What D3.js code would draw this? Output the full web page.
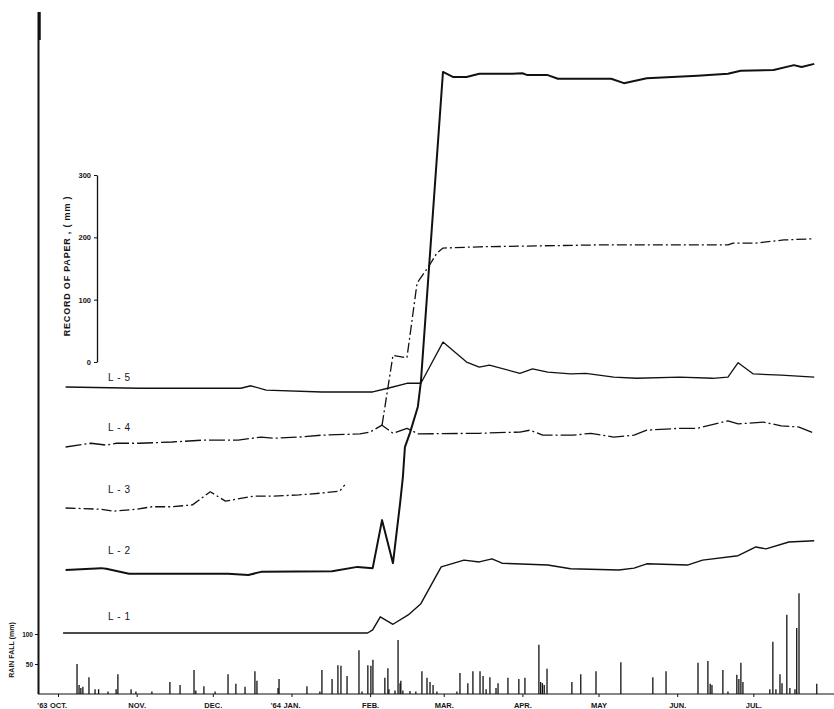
<!DOCTYPE html>
<html lang="en">
<head>
<meta charset="utf-8">
<title>Extensometer records and rainfall</title>
<script src="https://cdn.jsdelivr.net/npm/d3@7"></script>
<style>
	body { margin: 0; background: #fff; }
	text { font-family: "Liberation Sans", Arial, sans-serif; fill: #151515; }
</style>
</head>
<body>
<div id="chart"></div>
<script>
// all days are counted from 1 Oct 1963, record values in mm of paper
var l1Days = [2,122,124,127,132,138,143,151,160,166,171,175,193,202,221,227,232,248,254,268,275,279,288,298];
var l1Vals = [0,0,5,26,14,29,47,106,117,114,119,112,109,103,101,104,111,109,117,124,138,135,146,148];

var l2Days = [3,17,19,28,67,75,80,108,118,124,127.7,132,134.8,135.9,136.7,138.7,141.8,143,151.7,155.6,161,166,179,183,185,193,197,218,223,232,252,264,269,282,290,293,298];
var l2Vals = [0,3,2,-6,-6,-8,-3,-2,5,3,80,11,107,149,197,220,262,302,799,791,791,796,796,797,794,794,788,788,781,789,793,796,801,802,810,807,812];

// L-3 has a break in the record before the rise
var l3Days = [3,17,22,31,37,45,53,60,66,77,85,95,104,111,113,120,127.7,132,137.5,141.5,146,149.3,151.7,166,212,232,264,266,275,286,298];
var l3Vals = [0,-2,-5,-2,2,2,5,26,11,19,19,21,24,27,37,null,133,245,241,361,387,409,417,419,422,422,422,425,425,430,432];

var l4Days = [3,13,19,23,32,45,57,71,80,85,95,104,119,123,127.7,132,137.5,142,166,182,186,191,203,210,219,227,232,245,252,264,268,278,285,292,298];
var l4Vals = [0,6,3,6,6,8,11,11,16,14,16,19,21,24,35,22,30,21,22,24,27,19,19,22,16,19,27,30,30,42,37,40,34,32,22];

var l5Days = [3,32,72,76,82,104,124,130,137.5,143,151.7,161,166,170,182,187,193,202,208,219,228,245,258,264,268,274,285,298];
var l5Vals = [0,-2,-2,2,-5,-8,-8,-2,6,6,72,40,32,35,22,29,24,21,22,16,14,16,14,16,39,21,19,16];

var lineNames = ["L - 1","L - 2","L - 3","L - 4","L - 5"];

var rainDays = [7.5,8.3,9,9.8,12.2,14.6,16,19.7,22.9,23.6,28.8,30.7,37,44.1,48.1,53.6,54.3,57.5,61.9,67,70.1,73.7,77.6,78.4,86.7,87.1,98.1,103.2,104,108,110.3,111.5,113.9,118.6,119.8,122.1,123.3,124.1,128.8,130,130.4,132.8,134,134.8,135.1,135.9,138.7,141,143.4,145.4,146.6,147.8,149.3,157.2,158.4,161.5,163.5,166.3,167.5,168.7,170.2,172.6,173.4,177.3,181.6,184,189.5,190.2,190.9,191.6,192.7,202.5,206,212,221.8,234.4,239.6,252.2,256.1,257,257.7,262,264,267.5,268.3,269.1,269.9,280.5,281.7,282.9,284.5,285.3,287.2,288.4,290.4,291.1,292,299];
var rainMm = [50,15,10,12,28,8,8,4,8,33,8,4,4,20,15,40,6,13,4,33,17,12,38,22,10,25,13,4,40,25,48,47,30,73,4,48,47,57,27,43,8,6,90,18,22,6,5,4,38,27,20,15,4,4,35,18,38,38,30,8,28,10,18,27,25,27,82,20,18,15,42,20,33,38,53,28,38,52,55,17,15,40,4,32,25,52,20,8,87,8,33,18,132,10,8,110,168,17];

var monthNames = ["OCT.","NOV.","DEC.","JAN.","FEB.","MAR.","APR.","MAY","JUN.","JUL."];
var yearNames = {0: "'63", 3: "'64"};
var recordTicks = [0,100,200,300];
var rainTicks = [50,100];

var start = new Date(1963, 9, 1);
var end = new Date(1964, 7, 1);
function toDate(d) { return new Date(start.getTime() + d * 864e5); }

var svg = d3.select("#chart")
	.append("svg")
	.attr("width", 834)
	.attr("height", 709);

var x = d3.scaleTime().domain([start, end]).range([58, 832]);
var yRec = d3.scaleLinear().domain([0, 300]).range([362, 175]);
var yRain = d3.scaleLinear().domain([0, 100]).range([694, 634]);

// long frame line on the left
svg.append("line")
	.attr("x1", 38.5).attr("x2", 38.5)
	.attr("y1", 12).attr("y2", 694)
	.attr("stroke", "#111").attr("stroke-width", 2);
svg.append("line")
	.attr("x1", 39.5).attr("x2", 39.5)
	.attr("y1", 12).attr("y2", 40)
	.attr("stroke", "#111").attr("stroke-width", 2.5);

// rainfall bars
var rain = rainDays.map(function(d, i) { return {date: toDate(d), mm: rainMm[i]}; });
svg.append("g").selectAll("line")
	.data(rain)
	.enter().append("line")
	.attr("x1", function(d) { return x(d.date); })
	.attr("x2", function(d) { return x(d.date); })
	.attr("y1", yRain(0))
	.attr("y2", function(d) { return yRain(d.mm); })
	.attr("stroke", "#111")
	.attr("stroke-width", 1.3);

// baseline + month axis
svg.append("line")
	.attr("x1", 38).attr("x2", 834)
	.attr("y1", yRain(0)).attr("y2", yRain(0))
	.attr("stroke", "#111").attr("stroke-width", 1.2);

var xAxis = svg.append("g")
	.attr("transform", "translate(0," + yRain(0) + ")")
	.call(d3.axisBottom(x)
		.tickValues(d3.timeMonth.range(start, end))
		.tickSize(3)
		.tickPadding(6)
		.tickFormat(function(d, i) { return monthNames[i]; }));
xAxis.select(".domain").remove();
xAxis.selectAll("line").attr("stroke", "#111");
xAxis.selectAll("text").attr("font-size", 7.5).attr("font-weight", "bold");
xAxis.selectAll(".tick").each(function(d, i) {
	if (yearNames[i]) {
		d3.select(this).append("text")
			.attr("x", -11).attr("y", 9).attr("dy", "0.71em")
			.attr("text-anchor", "end")
			.attr("font-size", 7.5).attr("font-weight", "bold")
			.attr("fill", "#151515")
			.text(yearNames[i]);
	}
});

// rainfall axis
var rainAxis = svg.append("g")
	.attr("transform", "translate(38,0)")
	.call(d3.axisLeft(yRain).tickValues(rainTicks).tickSize(3).tickPadding(2));
rainAxis.select(".domain").remove();
rainAxis.selectAll("line").attr("stroke", "#111");
rainAxis.selectAll("text").attr("font-size", 6.5).attr("font-weight", "bold");

svg.append("text")
	.attr("transform", "translate(14,650) rotate(-90)")
	.attr("text-anchor", "middle")
	.attr("font-size", 7)
	.attr("font-weight", "bold")
	.text("RAIN FALL (mm)");

// record of paper scale
var recAxis = svg.append("g")
	.attr("transform", "translate(97,0)")
	.call(d3.axisLeft(yRec).tickValues(recordTicks).tickSize(3).tickPadding(3).tickSizeOuter(0));
recAxis.select(".domain").attr("stroke", "#111").attr("stroke-width", 1.3);
recAxis.selectAll("line").attr("stroke", "#111");
recAxis.selectAll("text").attr("font-size", 7.5).attr("font-weight", "bold");

svg.append("text")
	.attr("transform", "translate(70,266) rotate(-90)")
	.attr("text-anchor", "middle")
	.attr("font-size", 9)
	.attr("letter-spacing", 0.8)
	.attr("font-weight", "bold")
	.text("RECORD OF PAPER  ,  ( mm )");

// extensometer records, each drawn on its own baseline
var records = [
	{days: l1Days, vals: l1Vals},
	{days: l2Days, vals: l2Vals},
	{days: l3Days, vals: l3Vals},
	{days: l4Days, vals: l4Vals},
	{days: l5Days, vals: l5Vals}
];
var rowBase = [633, 570, 508, 447, 387];
var labelDy = [-13, -16, -15, -16, -6];
var widths = [1.4, 2, 1.3, 1.3, 1.3];
var dashes = [null, null, "10,3,2,3", "16,3,2,3", null];

records.forEach(function(r, i) {
	var pts = r.days.map(function(d, j) { return {date: toDate(d), v: r.vals[j]}; });
	var line = d3.line()
		.defined(function(p) { return p.v !== null; })
		.x(function(p) { return x(p.date); })
		.y(function(p) { return rowBase[i] + yRec(p.v) - yRec(0); });
	svg.append("path")
		.datum(pts)
		.attr("d", line)
		.attr("fill", "none")
		.attr("stroke", "#111")
		.attr("stroke-width", widths[i])
		.attr("stroke-linejoin", "round")
		.attr("stroke-dasharray", dashes[i]);
	svg.append("text")
		.attr("x", 108)
		.attr("y", rowBase[i] + labelDy[i])
		.attr("font-size", 10)
		.attr("letter-spacing", 0.6)
		.text(lineNames[i]);
});
</script>
</body>
</html>
